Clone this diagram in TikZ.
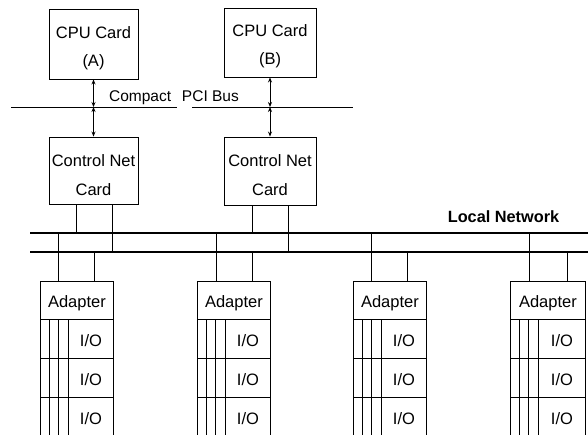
\documentclass[tikz,border=0pt]{standalone}
\usepackage{fontspec}
\setmainfont{Liberation Sans}
\usetikzlibrary{arrows.meta}
\begin{document}
\begin{tikzpicture}[x=1pt,y=-1pt,
  box/.style={draw,line width=0.9pt,inner sep=0pt},
  txt/.style={inner sep=0pt,align=center,font=\fontsize{16.5}{28.5}\selectfont},
  cellbox/.style={draw,line width=0.9pt,inner sep=0pt},
  wire/.style={line width=0.6pt},
  net/.style={line width=1.6pt},
  busline/.style={line width=0.9pt},
  dbl/.style={line width=0.8pt,{Stealth[length=5pt,width=4pt]}-{Stealth[length=5pt,width=4pt]}},
  lbl/.style={inner sep=0pt}]
\useasboundingbox (0,0) rectangle (588,434);

% CPU cards
\node[box,minimum width=89pt,minimum height=70pt] (cpuA) at (93.5,44) {};
\node[box,minimum width=92pt,minimum height=69pt] (cpuB) at (270,42.5) {};
\node[txt] (cpuAt) at (93.5,48) {CPU Card\\(A)};
\node[txt] (cpuBt) at (270,46) {CPU Card\\(B)};

% Compact PCI bus
\coordinate (bus1L) at (11,107);
\coordinate (bus1R) at (177,107);
\coordinate (bus2L) at (192,107);
\coordinate (bus2R) at (353,107);
\draw[busline] (bus1L) -- (bus1R);
\draw[busline] (bus2L) -- (bus2R);
\node[lbl,font=\fontsize{15.5}{18}\selectfont] (pcilbl) at (174,98) {Compact\hspace{0.7em}PCI Bus};

% Control Net cards
\node[box,minimum width=89pt,minimum height=67pt] (ctrlA) at (93.5,170.5) {};
\node[box,minimum width=92pt,minimum height=68pt] (ctrlB) at (270,171) {};
\node[txt] (ctrlAt) at (93.5,175) {Control Net\\Card};
\node[txt] (ctrlBt) at (270,175) {Control Net\\Card};

% bus arrows
\coordinate (busA) at (cpuA.south |- bus1L);
\coordinate (busB) at (cpuB.south |- bus2L);
\draw[dbl] (cpuA.south) -- (busA);
\draw[dbl] (busA) -- (ctrlA.north);
\draw[dbl] (cpuB.south) -- (busB);
\draw[dbl] (busB) -- (ctrlB.north);

% Local network (two lines)
\coordinate (netTL) at (30,233);
\coordinate (netTR) at (588,233);
\coordinate (netBL) at (30,252);
\coordinate (netBR) at (588,252);
\draw[net] (netTL) -- (netTR);
\draw[net] (netBL) -- (netBR);
\node[lbl,font=\bfseries\fontsize{16.3}{18}\selectfont] (netlbl) at (503.5,217) {Local Network};

% control cards to network
\coordinate (cA1) at (76,233);
\coordinate (cA2) at (112,252);
\coordinate (cB1) at (252,233);
\coordinate (cB2) at (288,252);
\draw[wire] (ctrlA.south -| cA1) -- (cA1);
\draw[wire] (ctrlA.south -| cA2) -- (cA2);
\draw[wire] (ctrlB.south -| cB1) -- (cB1);
\draw[wire] (ctrlB.south -| cB2) -- (cB2);

% adapters with I/O
\foreach \L/\W/\a/\b/\n in {40/73/18/54/A,197/73/19/55/B,353/73/18/54/C,510/75/19/57/D} {
  \node[box,minimum width=\W pt,minimum height=38pt,anchor=north west] (ad\n) at (\L,281) {};
  \node[txt] (ad\n t) at ([yshift=-2.5pt]ad\n.center) {Adapter};
  \foreach \r in {0,1,2} {
    \node[box,minimum width={(\W-28)*1pt},minimum height=39pt,anchor=north west] (io\n\r) at (\L+28,319+39*\r) {};
    \node[txt] (io\n\r t) at ([yshift=-2pt]io\n\r.center) {I/O};
    \node[cellbox,minimum width=28pt,minimum height=39pt,anchor=north west] (cell\n\r) at (\L,319+39*\r) {};
  }
  \draw[wire] ([xshift=9pt]cell\n0.north west) -- ([xshift=9pt]cell\n2.south west);
  \draw[wire] ([xshift=18pt]cell\n0.north west) -- ([xshift=18pt]cell\n2.south west);
  \coordinate (t\n) at (\L+\a,233);
  \coordinate (b\n) at (\L+\b,252);
  \draw[wire] (t\n) -- (t\n |- ad\n.north);
  \draw[wire] (b\n) -- (b\n |- ad\n.north);
}
\end{tikzpicture}
\end{document}
